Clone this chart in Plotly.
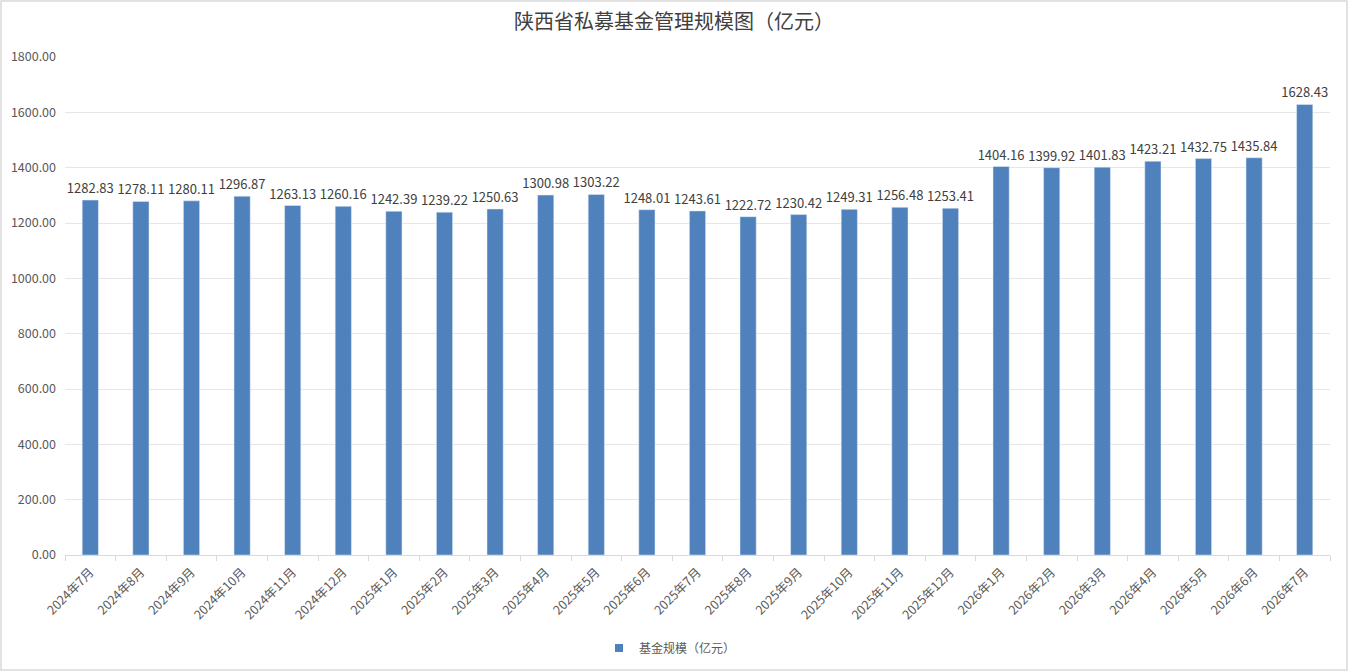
import plotly.graph_objects as go

# 月份与管理规模（亿元）
months = [
    '2024年7月', '2024年8月', '2024年9月', '2024年10月', '2024年11月', '2024年12月',
    '2025年1月', '2025年2月', '2025年3月', '2025年4月', '2025年5月', '2025年6月',
    '2025年7月', '2025年8月', '2025年9月', '2025年10月', '2025年11月', '2025年12月',
    '2026年1月', '2026年2月', '2026年3月', '2026年4月', '2026年5月', '2026年6月',
    '2026年7月',
]
scale = [
    1282.83, 1278.11, 1280.11, 1296.87, 1263.13, 1260.16,
    1242.39, 1239.22, 1250.63, 1300.98, 1303.22, 1248.01,
    1243.61, 1222.72, 1230.42, 1249.31, 1256.48, 1253.41,
    1404.16, 1399.92, 1401.83, 1423.21, 1432.75, 1435.84,
    1628.43,
]
y_ticks = [0, 200, 400, 600, 800, 1000, 1200, 1400, 1600, 1800]

W, H = 1348, 671
L, R, T, B = 65, 18, 57, 116
pw, ph = W - L - R, H - T - B

font_family = 'Noto Sans CJK SC, Noto Sans, sans-serif'
bar_color = '#4F81BD'

fig = go.Figure()
fig.add_trace(go.Bar(
    x=months,
    y=scale,
    name='基金规模（亿元）',
    marker=dict(color=bar_color),
    texttemplate='%{y:.2f}',
    textposition='outside',
    constraintext='none',
    textfont=dict(size=13, color='#404040'),
    cliponaxis=False,
    showlegend=False,
))
# legend entry with a small square like the original
fig.add_trace(go.Scatter(
    x=[None], y=[None], mode='markers', name='基金规模（亿元）',
    marker=dict(symbol='square', size=8, color=bar_color),
))

fig.update_layout(
    width=W, height=H,
    margin=dict(l=L, r=R, t=T, b=B, autoexpand=False),
    paper_bgcolor='white', plot_bgcolor='white',
    font=dict(family=font_family, color='#595959'),
    title=dict(text='陕西省私募基金管理规模图（亿元）', x=0.5, xanchor='center',
               y=1 - 22 / H, yanchor='middle',
               font=dict(size=20, color='#404040', family=font_family)),
    bargap=0.68,
    showlegend=True,
    legend=dict(orientation='h', xref='container', x=670 / W, xanchor='center',
                yref='container', y=1 - 648 / H, yanchor='middle',
                itemwidth=30, font=dict(size=12, color='#595959')),
    shapes=[dict(type='rect', xref='paper', yref='paper',
                 x0=-(L - 1) / pw, x1=1 + (R - 1) / pw,
                 y0=-(B - 1) / ph, y1=1 + (T - 1) / ph,
                 line=dict(color='#D9D9D9', width=1.5), layer='below')],
)

fig.update_xaxes(
    tickangle=-45, tickfont=dict(size=12.5, color='#595959'),
    showline=True, linecolor='#D9D9D9', linewidth=1,
    ticks='outside', tickson='boundaries', tickcolor='#D9D9D9', ticklen=5,
    ticklabelstandoff=4,
    showgrid=False, automargin=False,
)
fig.update_yaxes(
    range=[0, 1800], tickvals=y_ticks, tickformat='.2f',
    tickfont=dict(size=12.5, color='#595959'),
    ticklabelstandoff=8,
    showgrid=True, gridcolor='#E6E6E6', gridwidth=1,
    zeroline=False, showline=False, automargin=False,
)

fig.write_html('out.html', config={'displayModeBar': False},
               post_script="document.body.style.margin='0';")
